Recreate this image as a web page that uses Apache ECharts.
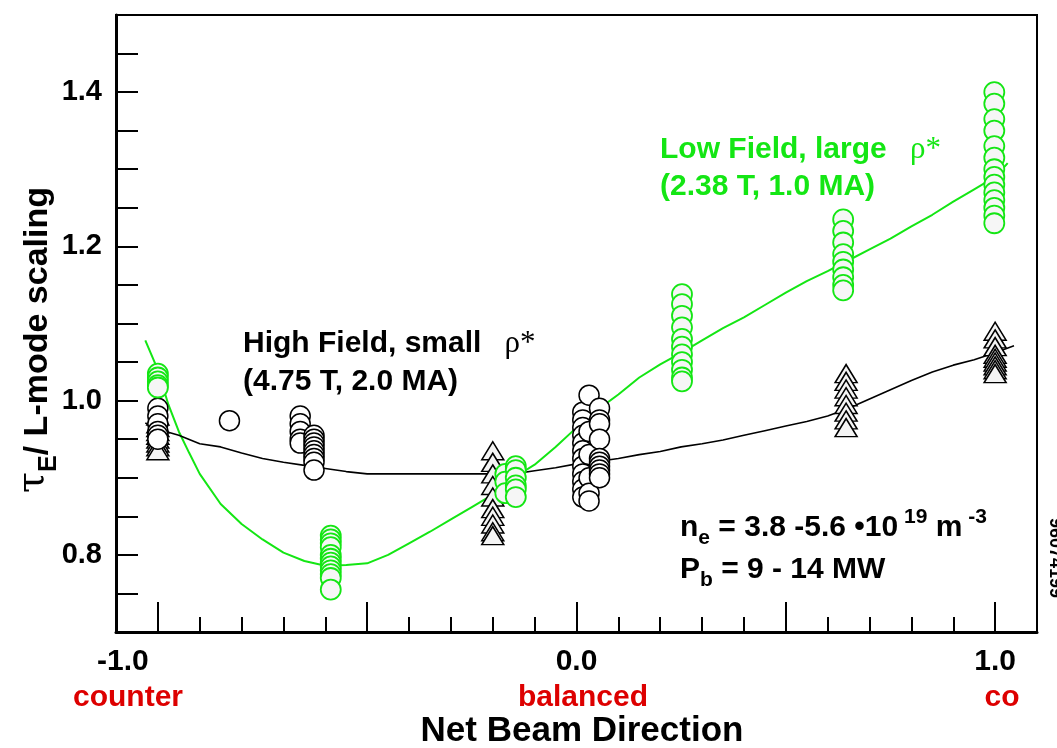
<!DOCTYPE html>
<html>
<head>
<meta charset="utf-8">
<script src="https://cdn.jsdelivr.net/npm/echarts@6/dist/echarts.min.js"></script>
<style>
  html, body { margin: 0; padding: 0; background: #fff; }
  #chart { width: 1057px; height: 748px; }
</style>
</head>
<body>
<div id="chart"></div>
<script>
// fit curves (net beam direction, tauE / L-mode)
const highFieldFit = [
  [-1.03, 0.971], [-1.0, 0.963], [-0.95, 0.955], [-0.9, 0.944], [-0.85, 0.94],
  [-0.8, 0.932], [-0.75, 0.925], [-0.7, 0.92], [-0.65, 0.916], [-0.6, 0.912],
  [-0.55, 0.908], [-0.5, 0.905], [-0.4, 0.905], [-0.3, 0.905], [-0.2, 0.905],
  [-0.15, 0.905], [-0.1, 0.909], [-0.05, 0.913], [0.0, 0.918], [0.05, 0.921],
  [0.1, 0.925], [0.15, 0.93], [0.2, 0.934], [0.25, 0.94], [0.3, 0.944],
  [0.35, 0.949], [0.4, 0.955], [0.45, 0.961], [0.5, 0.967], [0.55, 0.973],
  [0.6, 0.98], [0.65, 0.99], [0.7, 1.002], [0.75, 1.014], [0.8, 1.026],
  [0.85, 1.037], [0.9, 1.046], [0.95, 1.053], [1.0, 1.062], [1.045, 1.071]
];
const lowFieldFit = [
  [-1.03, 1.078], [-1.0, 1.04], [-0.975, 0.995], [-0.95, 0.96], [-0.925, 0.932],
  [-0.9, 0.905], [-0.85, 0.866], [-0.8, 0.84], [-0.75, 0.82], [-0.7, 0.803],
  [-0.65, 0.792], [-0.6, 0.786], [-0.55, 0.787], [-0.5, 0.789], [-0.45, 0.8],
  [-0.4, 0.815], [-0.35, 0.83], [-0.3, 0.846], [-0.25, 0.862], [-0.2, 0.878],
  [-0.15, 0.9], [-0.1, 0.917], [-0.05, 0.94], [0.0, 0.965], [0.05, 0.988],
  [0.1, 1.008], [0.15, 1.03], [0.2, 1.047], [0.25, 1.062], [0.3, 1.078],
  [0.35, 1.094], [0.4, 1.108], [0.45, 1.124], [0.5, 1.14], [0.55, 1.155],
  [0.6, 1.168], [0.65, 1.182], [0.7, 1.196], [0.75, 1.21], [0.8, 1.226],
  [0.85, 1.241], [0.9, 1.258], [0.95, 1.274], [1.0, 1.29], [1.03, 1.308]
];

// measured points
const highFieldCircles = [
  [-1.0, 0.99], [-1.0, 0.98], [-1.0, 0.97], [-1.0, 0.96], [-1.0, 0.955], [-1.0, 0.95],
  [-0.829, 0.974],
  [-0.66, 0.98], [-0.66, 0.97], [-0.66, 0.96], [-0.66, 0.95], [-0.66, 0.945],
  [-0.627, 0.955], [-0.627, 0.95], [-0.627, 0.945], [-0.627, 0.94], [-0.627, 0.935],
  [-0.627, 0.93], [-0.627, 0.925], [-0.627, 0.92], [-0.627, 0.91],
  [0.015, 0.985], [0.015, 0.975], [0.015, 0.965], [0.015, 0.955], [0.015, 0.945],
  [0.015, 0.935], [0.015, 0.925], [0.015, 0.915], [0.015, 0.905], [0.015, 0.895],
  [0.015, 0.885], [0.015, 0.875],
  [0.03, 1.007], [0.03, 0.96], [0.03, 0.93], [0.03, 0.9], [0.03, 0.88], [0.03, 0.87],
  [0.055, 0.99], [0.055, 0.975], [0.055, 0.97], [0.055, 0.95], [0.055, 0.925],
  [0.055, 0.92], [0.055, 0.915], [0.055, 0.91], [0.055, 0.905], [0.055, 0.9]
];
const highFieldTriangles = [
  [-1.0, 0.98], [-1.0, 0.97], [-1.0, 0.965], [-1.0, 0.96], [-1.0, 0.955],
  [-1.0, 0.95], [-1.0, 0.945], [-1.0, 0.94], [-1.0, 0.935],
  [-0.2, 0.935], [-0.2, 0.92], [-0.2, 0.905], [-0.2, 0.89], [-0.2, 0.875],
  [-0.2, 0.86], [-0.2, 0.85], [-0.2, 0.84], [-0.2, 0.83], [-0.2, 0.825],
  [0.644, 1.035], [0.644, 1.025], [0.644, 1.015], [0.644, 1.005], [0.644, 0.995],
  [0.644, 0.985], [0.644, 0.975], [0.644, 0.965],
  [1.0, 1.09], [1.0, 1.08], [1.0, 1.07], [1.0, 1.06], [1.0, 1.055],
  [1.0, 1.05], [1.0, 1.045], [1.0, 1.04], [1.0, 1.035]
];
const lowFieldCircles = [
  [-1.0, 1.035], [-1.0, 1.03], [-1.0, 1.025], [-1.0, 1.02], [-1.0, 1.017],
  [-0.587, 0.825], [-0.587, 0.82], [-0.587, 0.815], [-0.587, 0.81], [-0.587, 0.8],
  [-0.587, 0.795], [-0.587, 0.79], [-0.587, 0.785], [-0.587, 0.78], [-0.587, 0.775],
  [-0.587, 0.77], [-0.587, 0.755],
  [-0.17, 0.905], [-0.17, 0.895], [-0.17, 0.88],
  [-0.145, 0.915], [-0.145, 0.91], [-0.145, 0.9], [-0.145, 0.89], [-0.145, 0.885], [-0.145, 0.875],
  [0.252, 1.138], [0.252, 1.125], [0.252, 1.11], [0.252, 1.095], [0.252, 1.08],
  [0.252, 1.07], [0.252, 1.06], [0.252, 1.05], [0.252, 1.04], [0.252, 1.03], [0.252, 1.025],
  [0.637, 1.235], [0.637, 1.22], [0.637, 1.205], [0.637, 1.19], [0.637, 1.18],
  [0.637, 1.17], [0.637, 1.16], [0.637, 1.15], [0.637, 1.143],
  [0.998, 1.4], [0.998, 1.385], [0.998, 1.365], [0.998, 1.35], [0.998, 1.33],
  [0.998, 1.315], [0.998, 1.3], [0.998, 1.29], [0.998, 1.28], [0.998, 1.27],
  [0.998, 1.26], [0.998, 1.25], [0.998, 1.24], [0.998, 1.23]
];

// axis ticks and labels
const xMajorTicks = [-1.0, -0.5, 0.0, 0.5, 1.0];
const xTickLabels = [-1.0, 0.0, 1.0];
const yTickLabels = [0.8, 1.0, 1.2, 1.4];
const directionLabels = ['counter', 'balanced', 'co'];

const GREEN = '#14e614';
const RED = '#dd0000';
const FONT = '"Liberation Sans", Arial, sans-serif';

const chart = echarts.init(document.getElementById('chart'));

const boldText = (size, color) => ({
  fontFamily: FONT, fontWeight: 'bold', fontSize: size, fill: color, color: color
});
const centered = { align: 'center', verticalAlign: 'middle', textAlign: 'center', textVerticalAlign: 'middle' };
const topLeft = { align: 'left', verticalAlign: 'top', textAlign: 'left', textVerticalAlign: 'top' };

const option = {
  animation: false,
  backgroundColor: '#fff',
  grid: {
    left: 116, right: 20, top: 15, bottom: 116,
    show: true, borderColor: '#000', borderWidth: 2
  },
  xAxis: [
    {
      type: 'value', min: -1.1, max: 1.1, position: 'bottom',
      axisLine: { onZero: false, lineStyle: { color: '#000', width: 3 } },
      axisTick: {
        inside: true, length: 30, customValues: xMajorTicks,
        lineStyle: { color: '#000', width: 2 }
      },
      axisLabel: {
        customValues: xTickLabels, margin: 15,
        formatter: v => (v < -0.5 ? '{n|' + v.toFixed(1) + '}' : '{m|' + v.toFixed(1) + '}'),
        rich: {
          n: { fontFamily: FONT, fontWeight: 'bold', fontSize: 30, color: '#000', padding: [0, 70, 0, 0] },
          m: { fontFamily: FONT, fontWeight: 'bold', fontSize: 30, color: '#000' }
        }
      },
      splitLine: { show: false }
    },
    {
      type: 'value', min: -1.1, max: 1.1, interval: 0.1, position: 'bottom',
      axisLine: { show: false, onZero: false },
      axisTick: { inside: true, length: 15, lineStyle: { color: '#000', width: 2 } },
      axisLabel: { show: false },
      splitLine: { show: false }
    }
  ],
  yAxis: {
    type: 'value', min: 0.7, max: 1.5, interval: 0.05,
    axisLine: { show: true, onZero: false, lineStyle: { color: '#000', width: 3 } },
    axisTick: { inside: true, length: 22, lineStyle: { color: '#000', width: 2 } },
    axisLabel: {
      customValues: yTickLabels, margin: 14,
      formatter: v => v.toFixed(1),
      fontFamily: FONT, fontWeight: 'bold', fontSize: 29, color: '#000'
    },
    splitLine: { show: false }
  },
  series: [
    {
      type: 'line', data: lowFieldFit, showSymbol: false, symbol: 'none',
      lineStyle: { color: GREEN, width: 2 }, z: 1
    },
    {
      type: 'line', data: highFieldFit, showSymbol: false, symbol: 'none',
      lineStyle: { color: '#000', width: 1.6 }, z: 1
    },
    {
      type: 'scatter', data: highFieldTriangles, symbol: 'triangle', symbolSize: [22, 18],
      itemStyle: { color: '#f4f4f4', borderColor: '#000', borderWidth: 1.5, opacity: 1 }, z: 2
    },
    {
      type: 'scatter', data: highFieldCircles, symbol: 'circle', symbolSize: 20,
      itemStyle: { color: '#fff', borderColor: '#000', borderWidth: 1.5, opacity: 1 }, z: 3
    },
    {
      type: 'scatter', data: lowFieldCircles, symbol: 'circle', symbolSize: 20,
      itemStyle: { color: '#f6f6f6', borderColor: GREEN, borderWidth: 1.8, opacity: 1 }, z: 4
    }
  ],
  graphic: [
    // y axis title
    {
      type: 'text', x: 38, y: 340, rotation: Math.PI / 2,
      style: Object.assign({
        text: '{t|τ}{e|E}{m|/ L-mode scaling}',
        rich: {
          t: { fontFamily: '"DejaVu Serif", serif', fontSize: 38, fill: '#000', lineHeight: 38, verticalAlign: 'top' },
          e: Object.assign(boldText(25, '#000'), { lineHeight: 25, verticalAlign: 'bottom' }),
          m: Object.assign(boldText(34, '#000'), { lineHeight: 48, verticalAlign: 'middle' })
        }
      }, centered)
    },
    // beam direction names under the ticks
    {
      type: 'text', x: 128, y: 698,
      style: Object.assign(boldText(30, RED), { text: directionLabels[0] }, centered)
    },
    {
      type: 'text', x: 583, y: 698,
      style: Object.assign(boldText(30, RED), { text: directionLabels[1] }, centered)
    },
    {
      type: 'text', x: 1002, y: 698,
      style: Object.assign(boldText(30, RED), { text: directionLabels[2] }, centered)
    },
    {
      type: 'text', x: 582, y: 731,
      style: Object.assign(boldText(35, '#000'), { text: 'Net Beam Direction' }, centered)
    },
    // high field annotation
    {
      type: 'text', x: 243, y: 325,
      style: Object.assign({
        text: '{b|High Field, small}{r|   ρ*}\n{b|(4.75 T, 2.0 MA)}',
        rich: {
          b: Object.assign(boldText(30, '#000'), { lineHeight: 38 }),
          r: { fontFamily: '"Liberation Serif", serif', fontSize: 31, fill: '#000', lineHeight: 38 }
        }
      }, topLeft)
    },
    // low field annotation
    {
      type: 'text', x: 660, y: 131,
      style: Object.assign({
        text: '{b|Low Field, large}{r|   ρ*}\n{b|(2.38 T, 1.0 MA)}',
        rich: {
          b: Object.assign(boldText(30, GREEN), { lineHeight: 37 }),
          r: { fontFamily: '"Liberation Serif", serif', fontSize: 31, fill: GREEN, lineHeight: 37 }
        }
      }, topLeft)
    },
    // plasma conditions
    {
      type: 'text', x: 680, y: 507,
      style: Object.assign({
        text: '{b|n}{s|e}{b| = 3.8 -5.6 •10}{p| 19}{b| m}{p| -3}\n{b|P}{s|b}{b| = 9 - 14 MW}',
        rich: {
          b: Object.assign(boldText(30, '#000'), { lineHeight: 42, verticalAlign: 'middle' }),
          s: Object.assign(boldText(21, '#000'), { lineHeight: 20, verticalAlign: 'bottom' }),
          p: Object.assign(boldText(21, '#000'), { lineHeight: 20, verticalAlign: 'top' })
        }
      }, topLeft)
    },
    // figure id on the right margin
    {
      type: 'text', x: 1055, y: 558, rotation: -Math.PI / 2,
      style: Object.assign(boldText(18, '#000'), { text: '96074199' }, centered)
    }
  ]
};

chart.setOption(option);
</script>
</body>
</html>
